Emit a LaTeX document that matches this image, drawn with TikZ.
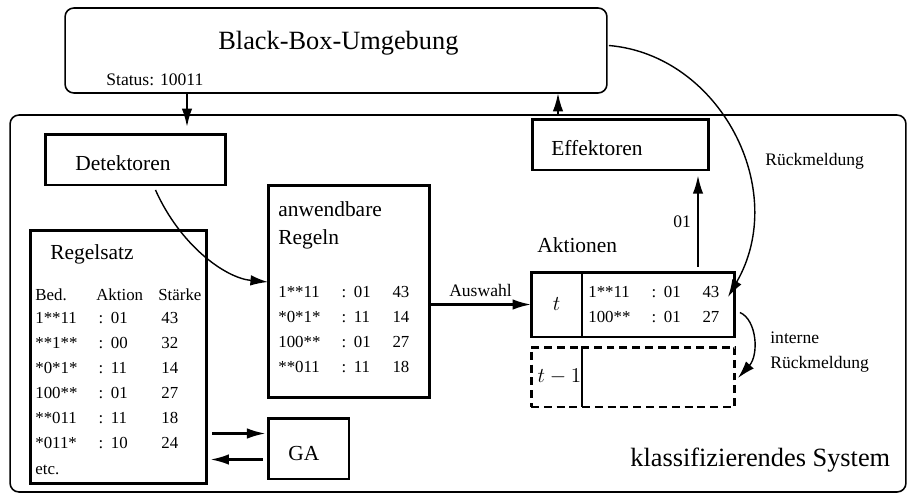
\documentclass[tikz,border=0pt]{standalone}
\usepackage{fontspec}
\setmainfont{Liberation Serif}
\usetikzlibrary{arrows.meta,positioning,calc}
\tikzstyle{frame}=[draw,rounded corners=5pt,line width=0.9pt,inner sep=0pt,outer sep=0pt]
\tikzstyle{block}=[draw,line width=1.7pt,inner sep=0pt,outer sep=0pt]
\tikzstyle{ghost}=[block,dash pattern=on 4.5pt off 2.8pt]
\tikzstyle{title}=[inner sep=0pt,anchor=base west,font=\fontsize{15}{18}\selectfont]
\tikzstyle{word}=[inner sep=0pt,anchor=base west,font=\fontsize{12.2}{14}\selectfont]
\tikzstyle{entry}=[inner sep=0pt,anchor=base west,font=\fontsize{9.6}{11}\selectfont]
\tikzstyle{note}=[inner sep=0pt,anchor=base west,font=\fontsize{10}{12}\selectfont]
\tikzstyle{flow}=[line width=1.2pt,-{Latex[length=10.5pt,width=6pt]}]
\tikzstyle{curvearrow}=[line width=0.8pt,-{Latex[length=10pt,width=6pt]}]
% one line of a rule table: condition : action strength
\newcommand{\rulerow}[4][22pt]{\makebox[36pt][l]{#2}\makebox[7pt][l]{:}\makebox[#1][l]{#3}#4}

\begin{document}
\begin{tikzpicture}[x=0.02cm,y=-0.02cm]
\useasboundingbox (0,0) rectangle (909,497);
% frames
\node[frame, minimum width=17.92cm, minimum height=7.54cm] (sys) at (458,303.5) {};
\node[frame, minimum width=10.84cm, minimum height=1.7cm] (env) at (336,50.5) {};
\node[title] (envname) at (218,49) {Black-Box-Umgebung};
\node[note] (status) at (106,85) {Status: 10011};
\node[title] (sysname) at (630,466) {klassifizierendes System};
% boxes
\node[block, minimum width=3.62cm, minimum height=1.02cm] (det) at (135.5,159.5) {};
\node[word] (detname) at (75,170) {Detektoren};
\node[block, minimum width=3.54cm, minimum height=1.02cm] (eff) at (620.5,144.5) {};
\node[word] (effname) at (551,155) {Effektoren};
\node[block, minimum width=3.24cm, minimum height=4.26cm] (appl) at (349,291.5) {};
\node[word] (applname1) at (278,216.5) {anwendbare};
\node[word] (applname2) at (278,244) {Regeln};
\node[entry] (appl1) at (278,297) {\rulerow{1**11}{01}{43}};
\node[entry] (appl2) at (278,322) {\rulerow{*0*1*}{11}{14}};
\node[entry] (appl3) at (278,347) {\rulerow{100**}{01}{27}};
\node[entry] (appl4) at (278,372) {\rulerow{**011}{11}{18}};
\node[block, minimum width=3.54cm, minimum height=5.08cm] (set) at (118.5,357) {};
\node[word] (setname) at (50,259) {Regelsatz};
\node[entry] (sethead) at (35,300) {\makebox[34.7pt][l]{Bed.}\makebox[35.3pt][l]{Aktion}Stärke};
\node[entry] (set1) at (35,323) {\rulerow[28.8pt]{1**11}{01}{43}};
\node[entry] (set2) at (35,348) {\rulerow[28.8pt]{**1**}{00}{32}};
\node[entry] (set3) at (35,373) {\rulerow[28.8pt]{*0*1*}{11}{14}};
\node[entry] (set4) at (35,398) {\rulerow[28.8pt]{100**}{01}{27}};
\node[entry] (set5) at (35,423) {\rulerow[28.8pt]{**011}{11}{18}};
\node[entry] (set6) at (35,448) {\rulerow[28.8pt]{*011*}{10}{24}};
\node[entry] (setetc) at (35,474) {etc.};
\node[block, minimum width=1.62cm, minimum height=1.22cm] (ga) at (308.5,448.5) {};
\node[word] (ganame) at (288,460) {GA};
% action list, now and one step back
\node[word] (actname) at (537,252) {Aktionen};
\node[block, minimum width=1.02cm, minimum height=1.3cm] (tcell) at (556.5,304.5) {\fontsize{12.2}{14}\selectfont$t$};
\node[block, minimum width=3.06cm, minimum height=1.3cm, right=0pt of tcell] (acts) {};
\node[entry] (acts1) at (588,297) {\rulerow{1**11}{01}{43}};
\node[entry] (acts2) at (588,322) {\rulerow{100**}{01}{27}};
\node[ghost, minimum width=1.02cm, minimum height=1.2cm] (oldt) at (556.5,377) {\fontsize{12.2}{14}\selectfont$\;t-1$};
\node[ghost, minimum width=3.06cm, minimum height=1.2cm, right=0pt of oldt] (olds) {};
% free ends
\coordinate (detin) at (187,127);
\coordinate (effout) at (558,115);
\coordinate (outx) at (698,0);
\coordinate (fbin) at (728,297);
\coordinate (gain) at ($(ga.west)+(0,-15)$);
\coordinate (gaout) at ($(ga.west)+(0,11)$);
% connectors
\draw[flow] (env.south -| detin) -- (detin);
\draw[flow] (effout) -- (effout |- env.south);
\draw[flow, shorten <=3pt, shorten >=3pt] (acts.north -| outx) -- (eff.south -| outx);
\node[note] (code) at (673,227) {01};
\draw[curvearrow] ($(det.south)+(20,5)$) .. controls (180,245) and (225,278) .. ($(appl.west)+(0,-9.5)$);
\draw[flow] (appl.east |- tcell.west) -- (tcell.west) node[midway, above=4pt, inner sep=0pt, font=\fontsize{10}{12}\selectfont] (pick) {Auswahl};
\draw[curvearrow] ($(env.east)+(2,-5)$) .. controls (720,55) and (790,190) .. (fbin);
\node[note] (fbname) at (765,165) {Rückmeldung};
\draw[curvearrow] ($(acts.east)+(5,8)$) .. controls (757,320) and (759,355) .. ($(olds.east)+(3,1)$);
\node[note] (intname1) at (770,343) {interne};
\node[note] (intname2) at (770,368) {Rückmeldung};
\draw[flow, shorten <=3pt, shorten >=1.5pt] (set.east |- gain) -- (gain);
\draw[flow, shorten <=3pt, shorten >=2pt] (gaout) -- (set.east |- gaout);
\end{tikzpicture}
\end{document}
